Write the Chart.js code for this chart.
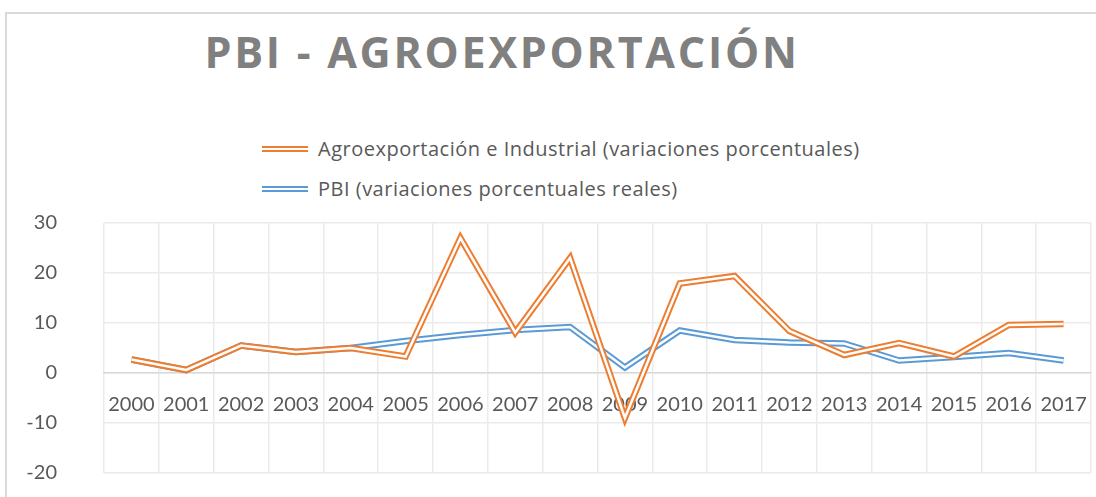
<!DOCTYPE html>
<html>
<head>
<meta charset="utf-8">
<script src="https://cdn.jsdelivr.net/npm/chart.js@4"></script>
<style>
  body { margin: 0; background: #ffffff; }
  #wrap { position: relative; width: 1096px; height: 497px; overflow: hidden; font-family: Lato, sans-serif; }
  #frame { position: absolute; left: 5px; top: 12px; width: 1200px; height: 600px; border-left: 2px solid #d9d9d9; border-top: 2px solid #d9d9d9; }
  #title { position: absolute; left: 0; width: 1004px; top: 22px; text-align: center; font-family: "Open Sans", sans-serif; font-weight: 700; font-size: 43px; letter-spacing: 2.75px; color: #808080; }
  .leg { position: absolute; left: 262px; font-family: "Open Sans", sans-serif; font-size: 20px; letter-spacing: 0.5px; color: #595959; display: flex; align-items: center; }
  .leg i { display: inline-block; width: 46px; height: 2px; border-top: 2px solid; border-bottom: 2px solid; margin-right: 10px; }
  canvas { position: absolute; left: 0; top: 0; }
</style>
</head>
<body>
<div id="wrap">
  <div id="frame"></div>
  <div id="title">PBI - AGROEXPORTACIÓN</div>
  <div class="leg" style="top:135px"><i style="color:#ED7D31"></i>Agroexportación e Industrial (variaciones porcentuales)</div>
  <div class="leg" style="top:175px"><i style="color:#5B9BD5"></i>PBI (variaciones porcentuales reales)</div>
  <!-- canvas runs past the bottom edge: the zero-line axis still keeps room below the plot -->
  <canvas id="chart" width="1096" height="532"></canvas>
</div>
<script>
const years = ["2000", "2001", "2002", "2003", "2004", "2005", "2006", "2007", "2008",
  "2009", "2010", "2011", "2012", "2013", "2014", "2015", "2016", "2017"];
const agroValues = [2.7, 0.6, 5.5, 4.2, 5.0, 3.3, 27.0, 8.1, 23.0, -9.0, 17.9, 19.4, 8.4, 3.6, 6.0, 3.3, 9.6, 9.8];
const pbiValues = [2.7, 0.6, 5.5, 4.2, 5.0, 6.4, 7.6, 8.6, 9.2, 1.1, 8.5, 6.6, 6.1, 5.9, 2.5, 3.2, 4.0, 2.5];
const yTicks = [-20, -10, 0, 10, 20, 30];

const COLORS = {
  ORANGE: "#ED7D31",
  BLUE: "#5B9BD5",
  TEXT: "#595959",
  GRID: "#ebebeb",
  ZERO: "#d9d9d9",
  WHITE: "#ffffff"
};

// double line look: thick coloured stroke with a thin white one on top
function doubleLine(label, data, color, order) {
  return [
    {
      label: label,
      data: data,
      borderColor: color,
      borderWidth: 6.5,
      pointRadius: 0,
      tension: 0,
      order: order + 1
    },
    {
      label: label + " (inner)",
      data: data,
      borderColor: COLORS.WHITE,
      borderWidth: 2.5,
      pointRadius: 0,
      tension: 0,
      order: order
    }
  ];
}

new Chart(document.getElementById("chart").getContext("2d"), {
  type: "line",
  data: {
    labels: years,
    datasets: [
      ...doubleLine("Agroexportación e Industrial (variaciones porcentuales)", agroValues, COLORS.ORANGE, 1),
      ...doubleLine("PBI (variaciones porcentuales reales)", pbiValues, COLORS.BLUE, 3)
    ]
  },
  options: {
    responsive: false,
    animation: false,
    layout: {
      padding: { top: 223, bottom: 0, left: 0, right: 5 }
    },
    plugins: {
      legend: { display: false },
      title: { display: false },
      tooltip: { enabled: false }
    },
    scales: {
      x: {
        position: { y: 0 },
        offset: true,
        afterFit: (scale) => {
          scale.height = 0;
          scale.paddingLeft = 0;
          scale.paddingRight = 0;
        },
        grid: {
          offset: true,
          color: COLORS.GRID,
          lineWidth: 1.5,
          drawTicks: false
        },
        border: { display: true, color: COLORS.ZERO, width: 1.5 },
        ticks: {
          padding: 20,
          maxRotation: 0,
          autoSkip: false,
          font: { family: "Lato, sans-serif", size: 20 },
          color: COLORS.TEXT
        }
      },
      y: {
        min: -20,
        max: 30,
        afterBuildTicks: (scale) => {
          scale.ticks = yTicks.map((v) => ({ value: v }));
        },
        afterFit: (scale) => {
          scale.width = 104;
        },
        grid: {
          color: COLORS.GRID,
          lineWidth: 1.5,
          drawTicks: false
        },
        border: { display: false },
        ticks: {
          padding: 47,
          font: { family: "Lato, sans-serif", size: 20 },
          color: COLORS.TEXT
        }
      }
    }
  }
});
</script>
</body>
</html>
